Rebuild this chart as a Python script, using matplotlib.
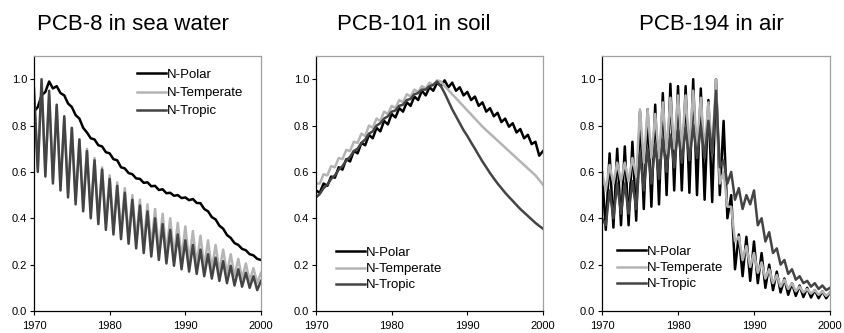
import matplotlib
matplotlib.use("Agg")
import matplotlib.pyplot as plt
import numpy as np

# yearly peaks (at Jan of each year) and troughs (mid-year)
years = np.arange(1970, 2001)
mid_years = years[:-1] + 0.5

titles = ["PCB-8 in sea water", "PCB-101 in soil", "PCB-194 in air"]
names = ["N-Polar", "N-Temperate", "N-Tropic"]

# --- PCB-8 in sea water
sea_polar_hi = [0.86, 0.93, 0.99, 0.97, 0.93, 0.88, 0.83, 0.77, 0.74, 0.71, 0.68,
                0.65, 0.615, 0.59, 0.57, 0.555, 0.54, 0.525, 0.51, 0.50, 0.49,
                0.483, 0.465, 0.43, 0.395, 0.355, 0.315, 0.285, 0.262, 0.24, 0.22]
sea_polar_lo = [0.88, 0.945, 0.96, 0.94, 0.895, 0.845, 0.79, 0.745, 0.715, 0.685,
                0.655, 0.62, 0.595, 0.572, 0.553, 0.538, 0.522, 0.508, 0.497, 0.487,
                0.478, 0.466, 0.44, 0.405, 0.368, 0.328, 0.293, 0.268, 0.245, 0.225]
sea_temp_hi = [0.93, 0.97, 0.93, 0.88, 0.83, 0.79, 0.74, 0.70, 0.66, 0.62, 0.585,
               0.555, 0.53, 0.50, 0.48, 0.46, 0.44, 0.42, 0.40, 0.38, 0.365,
               0.345, 0.325, 0.305, 0.285, 0.265, 0.245, 0.225, 0.205, 0.185, 0.165]
sea_temp_lo = [0.62, 0.60, 0.57, 0.54, 0.51, 0.48, 0.45, 0.425, 0.40, 0.38,
               0.36, 0.34, 0.32, 0.305, 0.29, 0.275, 0.26, 0.25, 0.235, 0.225,
               0.215, 0.20, 0.19, 0.18, 0.17, 0.16, 0.15, 0.14, 0.13, 0.12]
sea_trop_hi = [0.96, 1.0, 0.95, 0.89, 0.84, 0.79, 0.74, 0.69, 0.65, 0.61, 0.57,
               0.54, 0.51, 0.48, 0.455, 0.43, 0.40, 0.375, 0.35, 0.33, 0.305,
               0.285, 0.265, 0.245, 0.23, 0.215, 0.195, 0.18, 0.165, 0.15, 0.13]
sea_trop_lo = [0.60, 0.58, 0.55, 0.52, 0.49, 0.46, 0.43, 0.40, 0.375, 0.35,
               0.33, 0.31, 0.29, 0.27, 0.25, 0.235, 0.22, 0.205, 0.195, 0.18,
               0.17, 0.16, 0.15, 0.14, 0.13, 0.12, 0.11, 0.105, 0.10, 0.09]

# --- PCB-101 in soil
soil_polar_hi = [0.52, 0.55, 0.58, 0.62, 0.655, 0.69, 0.725, 0.76, 0.79, 0.82, 0.85,
                 0.875, 0.90, 0.925, 0.95, 0.965, 0.985, 0.995, 0.985, 0.965, 0.945,
                 0.925, 0.90, 0.875, 0.855, 0.83, 0.81, 0.785, 0.76, 0.73, 0.69]
soil_polar_lo = [0.51, 0.54, 0.575, 0.61, 0.645, 0.68, 0.715, 0.745, 0.775, 0.805,
                 0.835, 0.86, 0.885, 0.91, 0.93, 0.95, 0.97, 0.965, 0.95, 0.93,
                 0.91, 0.885, 0.86, 0.84, 0.815, 0.795, 0.77, 0.745, 0.72, 0.67]
soil_temp_hi = [0.55, 0.59, 0.625, 0.66, 0.695, 0.73, 0.765, 0.80, 0.83, 0.86, 0.885,
                0.91, 0.935, 0.955, 0.97, 0.985, 0.995, 0.97, 0.935, 0.90, 0.865,
                0.83, 0.795, 0.765, 0.735, 0.705, 0.675, 0.645, 0.615, 0.585, 0.545]
soil_temp_lo = [0.55, 0.585, 0.62, 0.655, 0.69, 0.725, 0.755, 0.79, 0.82, 0.85,
                0.875, 0.90, 0.925, 0.945, 0.96, 0.975, 0.99, 0.953, 0.918, 0.883,
                0.848, 0.813, 0.78, 0.75, 0.72, 0.69, 0.66, 0.63, 0.60, 0.565]
soil_trop_hi = [0.49, 0.53, 0.57, 0.61, 0.65, 0.69, 0.725, 0.765, 0.80, 0.83, 0.86,
                0.885, 0.91, 0.935, 0.955, 0.97, 0.99, 0.94, 0.87, 0.81, 0.755,
                0.70, 0.645, 0.595, 0.55, 0.51, 0.475, 0.44, 0.41, 0.38, 0.355]
soil_trop_lo = [0.505, 0.545, 0.585, 0.625, 0.665, 0.70, 0.74, 0.775, 0.81, 0.84,
                0.865, 0.89, 0.915, 0.94, 0.955, 0.975, 0.97, 0.905, 0.84, 0.78,
                0.727, 0.672, 0.62, 0.572, 0.53, 0.492, 0.457, 0.425, 0.395, 0.367]

# --- PCB-194 in air
air_polar_hi = [0.60, 0.68, 0.70, 0.71, 0.73, 0.86, 0.87, 0.89, 0.94, 0.98, 0.97,
                0.97, 1.00, 0.96, 0.91, 1.00, 0.82, 0.50, 0.33, 0.32, 0.30,
                0.25, 0.20, 0.17, 0.14, 0.12, 0.11, 0.10, 0.09, 0.085, 0.08]
air_polar_lo = [0.35, 0.36, 0.37, 0.37, 0.39, 0.44, 0.45, 0.46, 0.50, 0.52,
                0.52, 0.51, 0.50, 0.48, 0.47, 0.50, 0.40, 0.18, 0.15, 0.13,
                0.12, 0.10, 0.09, 0.08, 0.07, 0.065, 0.06, 0.058, 0.055, 0.055]
air_temp_hi = [0.60, 0.63, 0.64, 0.64, 0.66, 0.87, 0.87, 0.85, 0.90, 0.92, 0.93,
               0.93, 0.95, 0.92, 0.90, 1.00, 0.60, 0.45, 0.32, 0.28, 0.25,
               0.21, 0.18, 0.155, 0.135, 0.12, 0.105, 0.095, 0.09, 0.085, 0.08]
air_temp_lo = [0.52, 0.55, 0.56, 0.56, 0.58, 0.64, 0.66, 0.66, 0.68, 0.70,
               0.70, 0.70, 0.70, 0.69, 0.68, 0.55, 0.45, 0.30, 0.22, 0.19,
               0.165, 0.14, 0.12, 0.105, 0.095, 0.085, 0.08, 0.075, 0.07, 0.065]
air_trop_hi = [0.40, 0.52, 0.55, 0.55, 0.56, 0.68, 0.70, 0.72, 0.74, 0.76, 0.78,
               0.79, 0.80, 0.80, 0.82, 0.95, 0.65, 0.60, 0.53, 0.50, 0.52,
               0.40, 0.34, 0.27, 0.22, 0.18, 0.15, 0.13, 0.12, 0.11, 0.10]
air_trop_lo = [0.37, 0.40, 0.42, 0.42, 0.44, 0.52, 0.55, 0.57, 0.60, 0.62,
               0.64, 0.65, 0.66, 0.66, 0.68, 0.62, 0.55, 0.48, 0.44, 0.46,
               0.37, 0.30, 0.25, 0.20, 0.16, 0.135, 0.12, 0.105, 0.095, 0.09]

panels = [
    [(sea_polar_hi, sea_polar_lo), (sea_temp_hi, sea_temp_lo), (sea_trop_hi, sea_trop_lo)],
    [(soil_polar_hi, soil_polar_lo), (soil_temp_hi, soil_temp_lo), (soil_trop_hi, soil_trop_lo)],
    [(air_polar_hi, air_polar_lo), (air_temp_hi, air_temp_lo), (air_trop_hi, air_trop_lo)],
]
colors = ["#000000", "#b4b4b4", "#444444"]


def interleave(hi, lo):
    t = np.empty(len(years) + len(mid_years))
    v = np.empty_like(t)
    t[0::2], t[1::2] = years, mid_years
    v[0::2], v[1::2] = hi, lo
    return t, v


plt.rcParams.update({"font.family": ["Liberation Sans", "DejaVu Sans"]})
fig = plt.figure(figsize=(8.44, 3.33), dpi=100)

lefts = [34, 316, 602]
widths = [227, 227, 228]
title_x = [133, 414, 711]
leg_anchor = [(0.454, 0.95), (0.088, 0.252), (0.066, 0.256)]
leg_space = [0.45, 0.3, 0.3]

for i in range(3):
    ax = fig.add_axes([lefts[i] / 844, 22 / 333, widths[i] / 844, 255 / 333])
    for (hi, lo), c, name in zip(panels[i], colors, names):
        t, v = interleave(hi, lo)
        ax.plot(t, v, color=c, lw=1.8, label=name)
    ax.set_xlim(1970, 2000)
    ax.set_ylim(0, 1.1)
    ax.set_xticks([1970, 1980, 1990, 2000])
    ax.set_yticks(np.arange(0, 1.01, 0.2))
    ax.yaxis.set_major_formatter(matplotlib.ticker.FormatStrFormatter("%.1f"))
    ax.tick_params(direction="out", length=3, width=0.8, labelsize=8, pad=2)
    ax.tick_params(axis="x", pad=4)
    for s in ["top", "right"]:
        ax.spines[s].set_color("#a0a0a0")
    for s in ax.spines.values():
        s.set_linewidth(0.9)
    ax.legend(loc="upper left", bbox_to_anchor=leg_anchor[i], frameon=False,
              fontsize=9.5, handlelength=2.2, handletextpad=0.05,
              labelspacing=leg_space[i], borderaxespad=0, borderpad=0)
    fig.text(title_x[i] / 844, 1 - 25 / 333, titles[i], fontsize=16,
             ha="center", va="center")

fig.savefig("out.png", dpi=100)
